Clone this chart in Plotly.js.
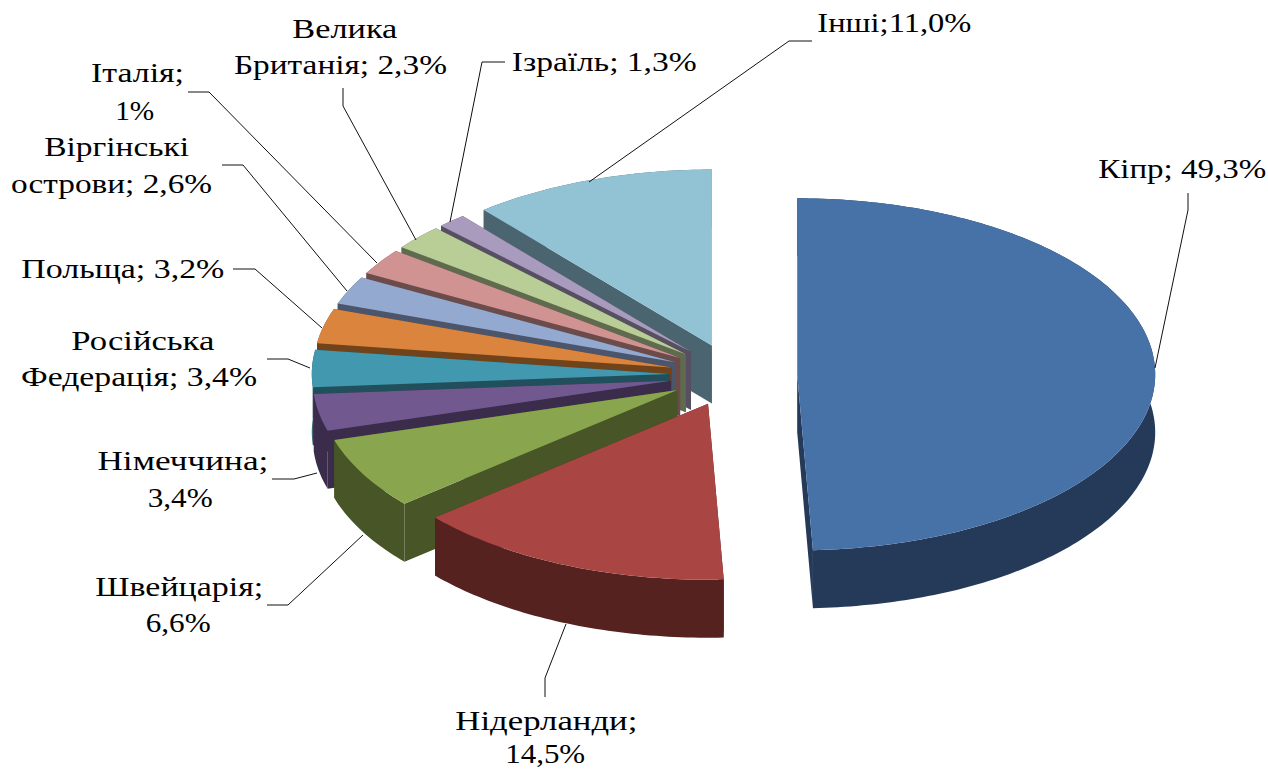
<!DOCTYPE html>
<html><head><meta charset="utf-8">
<script src="https://cdn.plot.ly/plotly-3.0.1.min.js"></script>
<style>html,body{margin:0;padding:0;background:#fff;overflow:hidden}#c{width:1268px;height:769px}</style>
</head><body><div id="c"></div>
<script>
// Data (shares in percent, clockwise from 12 o'clock). Italy's slice reads about 2.4 though it is labelled 1%.
const categories = ["Кіпр","Нідерланди","Швейцарія","Німеччина","Російська Федерація","Польща","Віргінські острови","Італія","Велика Британія","Ізраїль","Інші"];
const values = [49.3,14.5,6.6,3.4,3.4,3.2,2.6,2.4,2.3,1.3,11.0];
const labelLines = [
 ["Кіпр; 49,3%"],["Нідерланди;","14,5%"],["Швейцарія;","6,6%"],["Німеччина;","3,4%"],
 ["Російська","Федерація; 3,4%"],["Польща; 3,2%"],["Віргінські","острови; 2,6%"],["Італія;","1%"],
 ["Велика","Британія; 2,3%"],["Ізраїль; 1,3%"],["Інші;11,0%"]];

// Style
const topColors = ["#4672A8","#A94644","#89A54E","#71588F","#4198AF","#DB843D","#93A9CF","#D19392","#B9CD96","#A99BBD","#92C3D5"];
const sideColors = ["#243A58","#552220","#475527","#3A2C4A","#214F5B","#70431B","#4B566C","#6C4C4B","#5F6A4E","#574F62","#4B6570"];

// Projection of the tilted pie, in page pixels
const CX=733.5, CY=375, RX=358, RY=176, DEPTH=58, PULL=0.178;
// Per-line label boxes: [left, right, baseline]
const linePos = [
 [[1098,1266,179]],[[455,637,731],[505,585,764]],[[95,263,597],[145,210,633]],[[97,268,471],[147,212,508]],
 [[71,214,351],[21,257,387]],[[21,224,279]],[[44,189,157],[11,212,194]],[[91,184,83],[115,154,121]],
 [[292,397,39],[234,447,75]],[[511,696,72]],[[817,971,33]]];
const leaders = [
 [[1188,193],[1188,210],[1155,368]],[[545,697],[545,678],[566,624]],[[267,605],[288,605],[363,535]],
 [[272,479],[294,479],[317,473]],[[267,359],[288,359],[310,368]],[[233,269],[255,269],[322,328]],
 [[222,165],[243,165],[347,291]],[[188,92],[209,92],[377,263]],[[343,88],[343,106],[416,240]],
 [[505,62],[482,62],[450,222]],[[812,41],[789,41],[589,182]]];
const FS=28, DY=-11;

const rad=d=>d*Math.PI/180;
const total=values.reduce((a,b)=>a+b,0);
let acc=0;
const slices=values.map((v,i)=>{
  const a0=acc/total*360; acc+=v; const a1=acc/total*360; const m=(a0+a1)/2;
  return {i,a0,a1,m,ax:CX+PULL*RX*Math.sin(rad(m)),ay:CY-PULL*RY*Math.cos(rad(m))};
});
function rim(s,dz){
  const xs=[],ys=[],n=Math.max(2,Math.ceil(s.a1-s.a0));
  for(let k=0;k<=n;k++){const a=rad(s.a0+(s.a1-s.a0)*k/n);
    xs.push(s.ax+RX*Math.sin(a)); ys.push(s.ay-RY*Math.cos(a)+dz);}
  return {xs,ys};
}
const traces=[];
function poly(x,y,color,name){traces.push({type:"scatter",mode:"none",x,y,fill:"toself",fillcolor:color,hoverinfo:"skip",showlegend:false,name});}
// Painter's order: far slices first
const order=[...slices].sort((p,q)=>Math.cos(rad(q.m))-Math.cos(rad(p.m)));
order.forEach(s=>{
  const t=rim(s,0), b=rim(s,DEPTH), c=sideColors[s.i], n=categories[s.i], L=t.xs.length-1;
  // radial walls
  poly([s.ax,t.xs[0],b.xs[0],s.ax,s.ax],[s.ay,t.ys[0],b.ys[0],s.ay+DEPTH,s.ay],c,n+" wall");
  poly([s.ax,t.xs[L],b.xs[L],s.ax,s.ax],[s.ay,t.ys[L],b.ys[L],s.ay+DEPTH,s.ay],c,n+" wall");
  // outer wall
  poly(t.xs.concat(b.xs.slice().reverse()),t.ys.concat(b.ys.slice().reverse()),c,n+" side");
  // top face
  poly([s.ax].concat(t.xs,[s.ax]),[s.ay].concat(t.ys,[s.ay]),topColors[s.i],n);
});
// Leader lines
const lx=[],ly=[];
leaders.forEach(l=>{l.forEach(p=>{lx.push(p[0]);ly.push(p[1]);});lx.push(null);ly.push(null);});
traces.push({type:"scatter",mode:"lines",x:lx,y:ly,line:{color:"#111",width:1},hoverinfo:"skip",showlegend:false,name:"leaders"});

const annotations=[],widths={};
labelLines.forEach((ls,i)=>ls.forEach((t,j)=>{
  const p=linePos[i][j];
  annotations.push({x:(p[0]+p[1])/2,y:p[2]+DY,xref:"x",yref:"y",xanchor:"center",yanchor:"middle",text:t,showarrow:false,borderpad:0,
    font:{family:"Liberation Serif, Times New Roman, serif",size:FS,color:"#000"}});
  widths[t]=p[1]-p[0];
}));
const layout={width:1268,height:769,margin:{l:0,r:0,t:0,b:0},paper_bgcolor:"#fff",plot_bgcolor:"#fff",showlegend:false,
  xaxis:{visible:false,range:[0,1268],fixedrange:true},yaxis:{visible:false,range:[769,0],fixedrange:true},annotations};
Plotly.newPlot("c",traces,layout,{displayModeBar:false,staticPlot:true}).then(gd=>{
  gd.querySelectorAll(".annotation-text").forEach(el=>{
    const w=widths[el.textContent.trim()];
    if(w){el.setAttribute("textLength",w);el.setAttribute("lengthAdjust","spacingAndGlyphs");}
  });
});
</script></body></html>
